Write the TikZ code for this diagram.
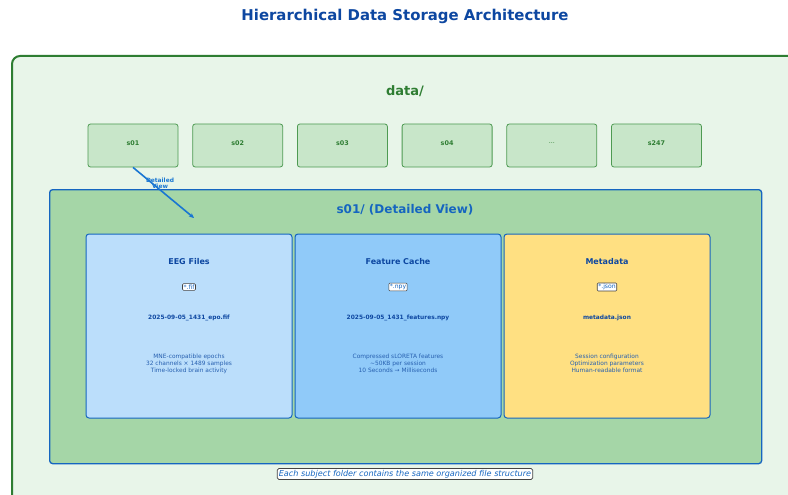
\documentclass[tikz,border=0pt]{standalone}
\usepackage{fontspec}
\setmainfont{DejaVu Sans}
\usetikzlibrary{arrows.meta}
\definecolor{titleblue}{HTML}{0D47A1}
\definecolor{datagreen}{HTML}{2E7D32}
\definecolor{outerfill}{HTML}{E8F5E9}
\definecolor{subfill}{HTML}{C8E6C9}
\definecolor{subborder}{HTML}{4E9A52}
\definecolor{detailfill}{HTML}{A5D6A7}
\definecolor{detailblue}{HTML}{1565C0}
\definecolor{arrowblue}{HTML}{1976D2}
\definecolor{eegfill}{HTML}{BBDEFB}
\definecolor{featfill}{HTML}{90CAF9}
\definecolor{metafill}{HTML}{FFE082}
\definecolor{descblue}{HTML}{2760B0}
\definecolor{tagborder}{HTML}{444444}
\newcommand{\fs}[1]{\fontsize{#1}{#1}\selectfont}
\tikzset{
  subbox/.style={draw=subborder, fill=subfill, rounded corners=2.5pt, line width=0.8pt,
    minimum width=90pt, minimum height=43pt, inner sep=0pt, text depth=5pt,
    font=\fs{6.4}\bfseries, text=datagreen},
  filebox/.style={draw=detailblue, line width=1pt, rounded corners=3pt,
    minimum width=206pt, minimum height=184pt, inner sep=0pt},
  boxtitle/.style={font=\fs{8}\bfseries, text=titleblue, inner sep=0pt},
  tagbox/.style={draw=tagborder, fill=white, rounded corners=1pt, line width=0.6pt,
    font=\fs{6.1}, text=detailblue, inner sep=1pt},
  fname/.style={font=\fs{5.9}\bfseries, text=titleblue, inner sep=0pt},
  desc/.style={font=\fontsize{5.9}{7}\selectfont, text=descblue, align=center, inner sep=0pt},
}
\begin{document}
\begin{tikzpicture}[x=1pt, y=-1pt]
  \useasboundingbox (0,0) rectangle (788,495);
  \clip (0,0) rectangle (788,495);
  \fill[white] (0,0) rectangle (788,495);

  % title
  \node[font=\fs{14.9}\bfseries, text=titleblue] (title) at (405,16) {Hierarchical Data Storage Architecture};

  % data/ folder
  \node[draw=datagreen, fill=outerfill, line width=2pt, rounded corners=8pt,
        minimum width=800pt, minimum height=460pt, anchor=north west] (data) at (11,55) {};
  \node[font=\fs{13}\bfseries, text=datagreen] (datalabel) at (405,91) {data/};

  % subject folders
  \node[subbox] (s01) at (133,145.5) {s01};
  \node[subbox] (s02) at (237.7,145.5) {s02};
  \node[subbox] (s03) at (342.4,145.5) {s03};
  \node[subbox] (s04) at (447.1,145.5) {s04};
  \node[subbox, font=\fs{6.4}] (sdots) at (551.8,145.5) {...};
  \node[subbox] (s247) at (656.5,145.5) {s247};

  % detailed view of s01
  \node[draw=detailblue, fill=detailfill, line width=1.3pt, rounded corners=3pt,
        minimum width=712pt, minimum height=274pt, anchor=north west] (detail) at (49,189) {};
  \node[font=\fs{12}\bfseries, text=detailblue] (detaillabel) at (405,210) {s01/ (Detailed View)};

  % EEG files
  \node[filebox, fill=eegfill] (eeg) at (189,326) {};
  \node[boxtitle] (eegtitle) at (189,261.5) {EEG Files};
  \node[tagbox] (eegtag) at (189,287) {*.fif};
  \node[fname] (eegname) at (189,318) {2025-09-05\_1431\_epo.fif};
  \node[desc] (eegdesc) at (189,363.5) {MNE-compatible epochs\\32 channels × 1489 samples\\Time-locked brain activity};

  % feature cache
  \node[filebox, fill=featfill] (feat) at (398,326) {};
  \node[boxtitle] (feattitle) at (398,261.5) {Feature Cache};
  \node[tagbox] (feattag) at (398,287) {*.npy};
  \node[fname] (featname) at (398,318) {2025-09-05\_1431\_features.npy};
  \node[desc] (featdesc) at (398,363.5) {Compressed sLORETA features\\\textasciitilde50KB per session\\10 Seconds → Milliseconds};

  % metadata
  \node[filebox, fill=metafill] (meta) at (607,326) {};
  \node[boxtitle] (metatitle) at (607,261.5) {Metadata};
  \node[tagbox] (metatag) at (607,287) {*.json};
  \node[fname] (metaname) at (607,318) {metadata.json};
  \node[desc] (metadesc) at (607,363.5) {Session configuration\\Optimization parameters\\Human-readable format};

  % link from s01 to its detailed view
  \coordinate (zoomend) at (194,218);
  \draw[arrowblue, line width=1.6pt, -{Stealth[length=5pt,width=4.5pt]}]
    (s01.south) -- (zoomend);
  \node[font=\fs{5.9}\bfseries, text=arrowblue, align=center, inner sep=0pt] (zoomlabel)
    at (160,183.5) {Detailed\\[-0.5pt]View};

  % footnote
  \node[draw=tagborder, fill=white, rounded corners=1.5pt, line width=0.7pt,
        font=\fs{8.1}\itshape, text=detailblue, inner sep=1.5pt] (note)
    at (405,474) {Each subject folder contains the same organized file structure};
\end{tikzpicture}
\end{document}
